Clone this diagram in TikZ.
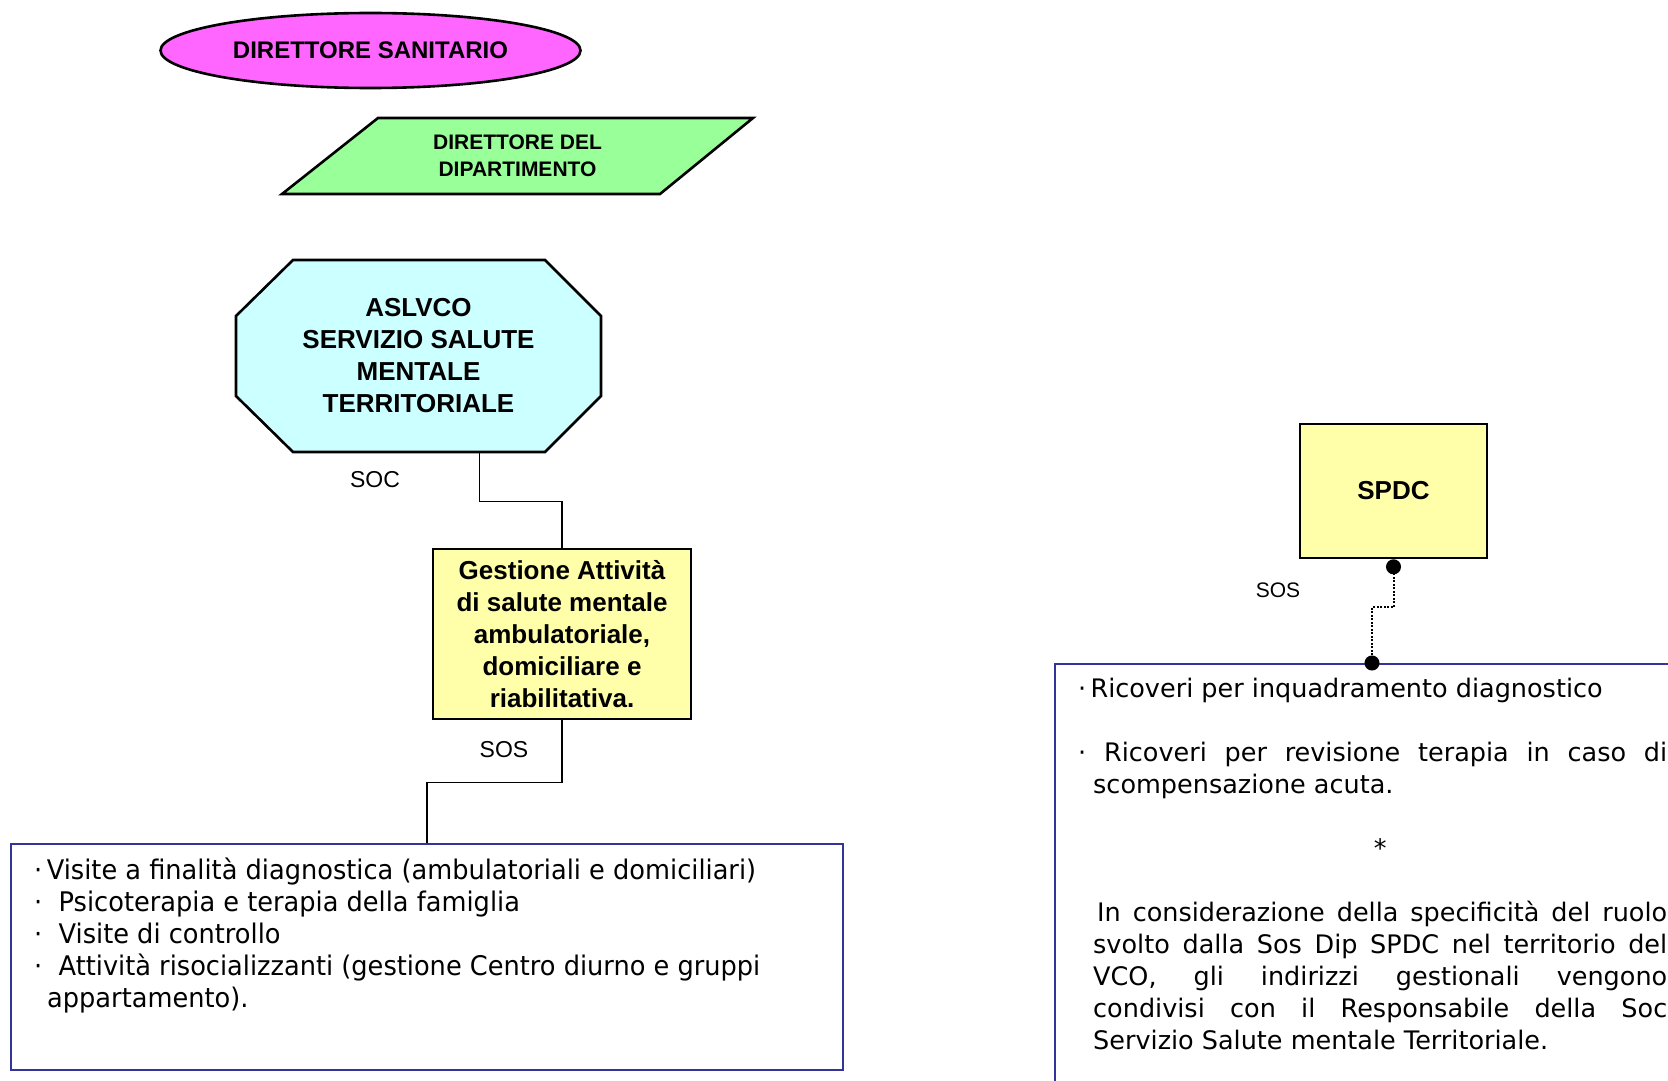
\documentclass[tikz,border=0pt]{standalone}
\usepackage{fontspec}
\setmainfont{Liberation Sans}
\newfontfamily\bodyfont{DejaVu Sans}
\newfontfamily\narrowfont[FakeStretch=0.95]{DejaVu Sans}
\usetikzlibrary{shapes.geometric, arrows.meta, positioning}

\definecolor{dirsan}{RGB}{255,102,255}
\definecolor{dirdip}{RGB}{153,255,153}
\definecolor{soccyan}{RGB}{204,255,255}
\definecolor{sosyellow}{RGB}{255,255,170}
\definecolor{boxblue}{RGB}{51,51,153}

\begin{document}
\begin{tikzpicture}[
    x=1pt, y=-1pt,
    unit/.style={draw, line width=2.6pt, align=center, inner sep=0pt,
        font=\bfseries\fontsize{26}{32}\selectfont},
    link/.style={line width=1.4pt},
    duty/.style={draw=boxblue, line width=1.8pt, inner sep=0pt},
    level/.style={inner sep=0pt, font=\fontsize{23}{28}\selectfont}
]
    \useasboundingbox (0,0) rectangle (1668,1081);
    \clip (0,0) rectangle (1668,1081);

    % Direttori
    \node [unit, ellipse, fill=dirsan, minimum width=420pt, minimum height=75pt,
        font=\bfseries\fontsize{24}{28}\selectfont] (dirsan) at (370.5,50.5)
        {DIRETTORE SANITARIO};
    \draw [line width=2.6pt, fill=dirdip]
        (282,194) -- (378,118) -- (753,118) -- (660,194) -- cycle;
    \node [align=center, font=\bfseries\fontsize{21}{26.5}\selectfont]
        (dirdip) at (517.5,156) {DIRETTORE DEL\\DIPARTIMENTO};

    % SOC
    \draw [line width=2.6pt, fill=soccyan]
        (236,316) -- (293,260) -- (545,260) -- (601,316)
        -- (601,396) -- (545,452) -- (293,452) -- (236,396) -- cycle;
    \node [unit, draw=none, minimum width=365pt, minimum height=192pt]
        (aslvco) at (418.5,356)
        {ASLVCO\\SERVIZIO SALUTE\\MENTALE\\TERRITORIALE};
    \node [level] (soc) at (375,480) {SOC};

    % SOS territoriale
    \node [unit, rectangle, fill=sosyellow, minimum width=258pt,
        minimum height=170pt] (gest) at (562,634)
        {Gestione Attività\\di salute mentale\\ambulatoriale,\\domiciliare e\\riabilitativa.};
    \draw [link] ([xshift=61pt]aslvco.south) -- ++(0,48) -| (gest.north);
    \node [level] (sosA) at (504,750) {SOS};

    \node [duty, minimum width=832pt, minimum height=226pt] (attbox) at (427,957) {};
    \draw [link] (gest.south) -- ++(0,62) -| (attbox.north);
    \node [anchor=north west, inner sep=0pt, align=left,
        font=\narrowfont\fontsize{27}{32}\selectfont] (attlist) at (34,858)
    {
        ·\,Visite a finalità diagnostica (ambulatoriali e domiciliari)\\
        ·~ Psicoterapia e terapia della famiglia\\
        ·~ Visite di controllo\\
        ·~ Attività risocializzanti (gestione Centro diurno e gruppi\\
        \hspace*{13pt}appartamento).
    };

    % SPDC
    \node [unit, rectangle, fill=sosyellow, minimum width=187pt,
        minimum height=134pt] (spdc) at (1393.5,491) {SPDC};
    \node [level, font=\fontsize{21}{26}\selectfont] (sosB) at (1278,590) {SOS};

    \node [duty, anchor=north west, minimum width=746pt, minimum height=540pt]
        (ricbox) at (1054,663) {};
    \coordinate (ricin) at (1372,663);
    \draw [line width=2pt, dash pattern=on 2pt off 1.5pt, shorten >=-7.5pt,
        {Circle[length=15pt]}-{Circle[length=15pt]}]
        (spdc.south) -- ++(0,48) -| (ricin);

    \node [anchor=north west, inner sep=0pt, text width=574pt, align=justify,
        font=\bodyfont\fontsize{25.5}{32}\selectfont] (riclist) at (1093,678)
    {
        \hyphenpenalty=10000 \exhyphenpenalty=10000 \hfuzz=100pt
        \hspace*{-15pt}·\,Ricoveri per inquadramento diagnostico\par
        \vspace{32pt}
        \hspace*{-15pt}· Ricoveri per revisione terapia in caso di\linebreak
        scompensazione acuta.\par
        \vspace{32pt}
        {\centering *\par}
        \vspace{32pt}
        \hspace*{4pt}In considerazione della specificità del ruolo\linebreak
        svolto dalla Sos Dip SPDC nel territorio del\linebreak
        VCO, gli indirizzi gestionali vengono\linebreak
        condivisi con il Responsabile della Soc\linebreak
        Servizio Salute mentale Territoriale.\par
    };

\end{tikzpicture}
\end{document}
